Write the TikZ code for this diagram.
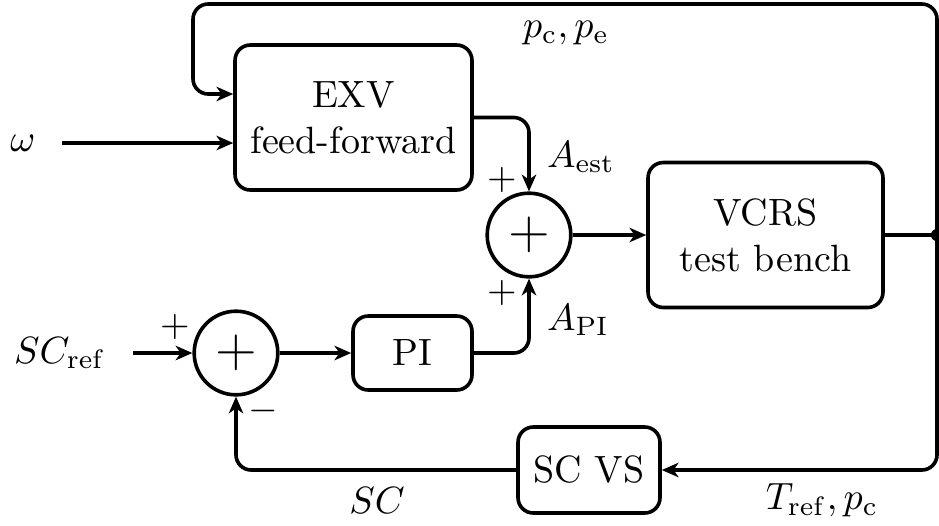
\documentclass[tikz,border=0pt]{standalone}
\usetikzlibrary{arrows.meta}
\begin{document}
\begin{tikzpicture}[x=0.00925cm,y=-0.00925cm,
  line width=0.95pt,
  blk/.style={draw,rounded corners=4pt,align=center,inner sep=0pt},
  sumnode/.style={draw,circle,minimum size=22pt,inner sep=0pt,font=\Large},
  arr/.style={-{Stealth[length=4.4pt,width=3.8pt,inset=1.3pt]}},
  lbl/.style={inner sep=0pt}]
\useasboundingbox (0,0) rectangle (939,525);
% blocks
\node[blk,minimum width=237*0.263pt,minimum height=145*0.263pt] (exv) at (353.5,117.5) {EXV\\feed-forward};
\node[blk,minimum width=235*0.263pt,minimum height=145*0.263pt] (vcrs) at (765.5,235) {VCRS\\test bench};
\node[blk,minimum width=119*0.263pt,minimum height=74*0.263pt] (pi) at (412.5,353) {PI};
\node[blk,minimum width=142*0.263pt,minimum height=86*0.263pt] (scvs) at (589,470) {SC VS};
\node[sumnode] (s1) at (529,235) {$+$};
\node[sumnode] (s2) at (236,353) {$+$};
\coordinate (dotc) at (937,235);
\fill (dotc) circle (1.6pt);
% inputs
\node[lbl] (w) at (23,143) {$\omega$};
\node[lbl] (scref) at (60,353) {$SC_{\mathrm{ref}}$};
\coordinate (wstart) at (62,143);
\coordinate (srstart) at (133,353);
\draw[arr] (wstart) -- (wstart -| exv.west);
\draw[arr] (srstart) -- (s2.west);
% connections
\draw[arr] (s2.east) -- (pi.west);
\draw[arr] (s1.east) -- (vcrs.west);
\draw (vcrs.east) -- (dotc);
\draw[arr,rounded corners=4pt] (exv.east) -| (s1.north);
\draw[arr,rounded corners=4pt] (pi.east) -| (s1.south);
\draw[arr,rounded corners=4pt] (dotc) -- (937,4) -- (193,4) -- (193,94) -- (exv.west |- 0,94);
\draw[arr,rounded corners=4pt] (dotc) |- (scvs.east);
\draw[arr,rounded corners=4pt] (scvs.west) -| (s2.south);
% labels
\node[lbl] (lpcpe) at (566,33) {$p_{\mathrm{c}}, p_{\mathrm{e}}$};
\node[lbl] (laest) at (581,157) {$A_{\mathrm{est}}$};
\node[lbl] (lapi) at (578,320) {$A_{\mathrm{PI}}$};
\node[lbl] (p1) at (502,180) {$+$};
\node[lbl] (p2) at (502,293) {$+$};
\node[lbl] (p3) at (175,327) {$+$};
\node[lbl] (m1) at (263,411) {$-$};
\node[lbl] (lsc) at (377,500) {$SC$};
\node[lbl] (ltref) at (822,500) {$T_{\mathrm{ref}}, p_{\mathrm{c}}$};
\end{tikzpicture}
\end{document}
